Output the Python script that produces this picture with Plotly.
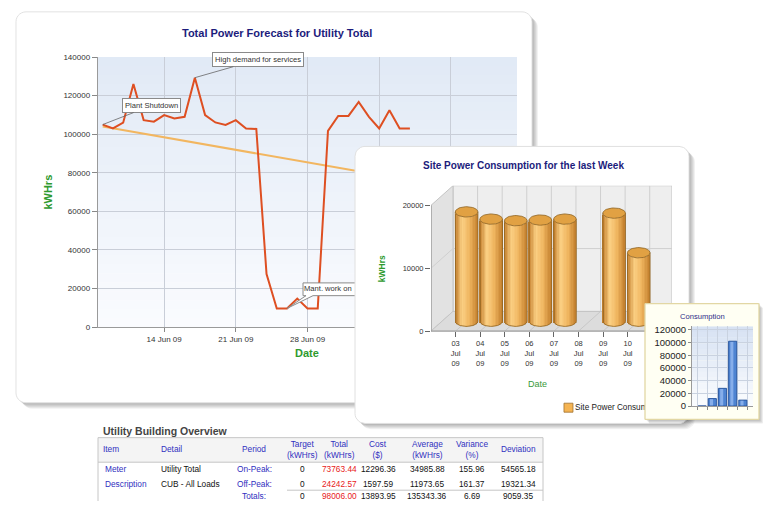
import numpy as np
import pandas as pd
import plotly.graph_objects as go

W, H = 767, 506
FONT = "Arial, Liberation Sans, sans-serif"

# ---------------- DATA ----------------
forecast_dates = pd.date_range("2009-06-08", "2009-07-08", freq="D")
forecast_kwh = [105000, 103000, 106000, 126000, 107300, 106500, 109900, 108200, 109000, 129300,
                109900, 106100, 104800, 107300, 103000, 102700, 27500, 9700, 9700, 14800,
                9700, 9700, 101700, 109500, 109500, 116700, 109000, 103000, 112400, 103000, 103000]
trend_dates = pd.to_datetime(["2009-06-08", "2009-07-08"])
trend_kwh = [104000, 76100]
main_tick_dates = pd.to_datetime(["2009-06-14", "2009-06-21", "2009-06-28", "2009-07-05", "2009-07-12"])
# the last two labels sit under the "Site Power" card in the reference, so they are left blank
main_tick_labels = ["14 Jun 09", "21 Jun 09", "28 Jun 09", "", ""]
main_y_ticks = [0, 20000, 40000, 60000, 80000, 100000, 120000, 140000]
callout_index = [0, 9, 18]
callout_texts = ["Plant Shutdown", "High demand for services", "Mant. work on"]

week_labels = ["03<br>Jul<br>09", "04<br>Jul<br>09", "05<br>Jul<br>09", "06<br>Jul<br>09",
               "07<br>Jul<br>09", "08<br>Jul<br>09", "09<br>Jul<br>09", "10<br>Jul<br>09"]
week_kwh = [17400, 16250, 16000, 16100, 16250, 0, 17200, 10900]
week_y_ticks = [0, 10000, 20000]

cons_bins = [0, 1, 2, 3, 4]
cons_kwh = [0, 11700, 27800, 102000, 9300]
cons_y_ticks = [0, 20000, 40000, 60000, 80000, 100000, 120000]

table_headers = ["Item", "Detail", "Period", "Target<br>(kWHrs)", "Total<br>(kWHrs)", "Cost<br>($)",
                 "Average<br>(kWHrs)", "Variance<br>(%)", "Deviation"]
tbl_item = ["Meter", "Description", ""]
tbl_detail = ["Utility Total", "CUB - All Loads", ""]
tbl_period = ["On-Peak:", "Off-Peak:", "Totals:"]
tbl_target = [0, 0, 0]
tbl_total = [73763.44, 24242.57, 98006.00]
tbl_cost = [12296.36, 1597.59, 13893.95]
tbl_average = [34985.88, 11973.65, 135343.36]
tbl_variance = [155.96, 161.37, 6.69]
tbl_deviation = [54565.18, 19321.34, 9059.35]


# ---------------- helpers ----------------
def PX(x):
    return x / W


def PY(y):
    return 1 - y / H


def rr_pts(x0, y0, x1, y1, r, n=8):
    pts = []
    corners = [(x1 - r, y0 + r, -90, 0), (x1 - r, y1 - r, 0, 90),
               (x0 + r, y1 - r, 90, 180), (x0 + r, y0 + r, 180, 270)]
    for cx, cy, a0, a1 in corners:
        for t in np.linspace(np.radians(a0), np.radians(a1), n):
            pts.append((cx + r * np.cos(t), cy + r * np.sin(t)))
    pts.append(pts[0])
    xs, ys = zip(*pts)
    return list(xs), list(ys)


def rr_paper_path(x0, y0, x1, y1, r):
    xs, ys = rr_pts(x0, y0, x1, y1, r)
    s = "M" + " L".join(f"{PX(a):.5f},{PY(b):.5f}" for a, b in zip(xs, ys)) + " Z"
    return s


fig = go.Figure()
shapes = []
annotations = []

# ---------------- main card (paper shapes) ----------------
for k in range(1, 7):
    shapes.append(dict(type="path", xref="paper", yref="paper", layer="below",
                       path=rr_paper_path(16 + k, 8 + k, 532 + k, 406 + k, 10),
                       fillcolor="rgba(0,0,0,0.055)", line=dict(width=0)))
shapes.append(dict(type="path", xref="paper", yref="paper", layer="below",
                   path=rr_paper_path(16, 8, 532, 406, 10),
                   fillcolor="white", line=dict(color="#E2E2E2", width=1)))

# main plot gradient background
M_L, M_R, M_T, M_B = 97.7, 517.0, 54.0, 329.0
nb = 30
top_c = np.array([225, 234, 246])
bot_c = np.array([251, 252, 255])
for i in range(nb):
    y0 = M_T + (M_B - M_T) * i / nb
    y1 = M_T + (M_B - M_T) * (i + 1) / nb
    c = top_c + (bot_c - top_c) * (i + 0.5) / nb
    shapes.append(dict(type="rect", xref="paper", yref="paper", layer="below",
                       x0=PX(M_L), x1=PX(M_R), y0=PY(y1 + 0.5), y1=PY(y0),
                       fillcolor=f"rgb({int(c[0])},{int(c[1])},{int(c[2])})", line=dict(width=0)))

# ---------------- subplot 1 : main forecast ----------------
day0 = pd.Timestamp("2009-06-08")
day0_px = 102.7
px_per_day = 10.24
Y_MAX = 140000


def main_x(px):
    return day0 + pd.Timedelta(days=(px - day0_px) / px_per_day)


def main_y(py):
    return (M_B - py) / (M_B - M_T) * Y_MAX


def main_px(date, val):
    return (day0_px + (pd.Timestamp(date) - day0).days * px_per_day,
            M_B - val / Y_MAX * (M_B - M_T))


fig.add_trace(go.Scatter(x=trend_dates, y=trend_kwh, mode="lines",
                         line=dict(color="#F2B660", width=2), xaxis="x", yaxis="y", hoverinfo="skip"))
fig.add_trace(go.Scatter(x=forecast_dates, y=forecast_kwh, mode="lines",
                         line=dict(color="#DE4F22", width=2), xaxis="x", yaxis="y", hoverinfo="skip"))

# callouts 1 and 2 as annotations
c_off = [(49, -19), (63, -18)]
for ci in range(2):
    idx = callout_index[ci]
    annotations.append(dict(x=forecast_dates[idx], y=forecast_kwh[idx], xref="x", yref="y",
                            text=callout_texts[ci], showarrow=True, arrowhead=0, arrowwidth=0.8,
                            arrowcolor="#666", ax=c_off[ci][0], ay=c_off[ci][1],
                            bgcolor="white", bordercolor="#8A8A8A", borderwidth=1, borderpad=2,
                            font=dict(family=FONT, size=7.6, color="#333")))

# callout 3 drawn inside subplot 1 so that the site card hides its right part
idx = callout_index[2]
ppx, ppy = main_px(forecast_dates[idx], forecast_kwh[idx])
bl, br, bt, bb = ppx + 16, ppx + 95, ppy - 26, ppy - 13
poly_px = [(bl, bt), (br, bt), (br, bb), (bl + 10, bb), (ppx, ppy), (bl + 3, bb), (bl, bb), (bl, bt)]
fig.add_trace(go.Scatter(x=[main_x(a) for a, b in poly_px], y=[main_y(b) for a, b in poly_px],
                         mode="lines", fill="toself", fillcolor="white",
                         line=dict(color="#8A8A8A", width=1), xaxis="x", yaxis="y", hoverinfo="skip"))
fig.add_trace(go.Scatter(x=[main_x(bl + 1)], y=[main_y((bt + bb) / 2)], mode="text",
                         text=[callout_texts[2]], textposition="middle right",
                         textfont=dict(family=FONT, size=7.6, color="#333"),
                         xaxis="x", yaxis="y", hoverinfo="skip"))

# ---------------- subplot 2 : site card background ----------------
for k in range(1, 7):
    xs, ys = rr_pts(355 + k, 145 + k, 689 + k, 427 + k, 10)
    fig.add_trace(go.Scatter(x=xs, y=ys, mode="lines", fill="toself", fillcolor="rgba(0,0,0,0.055)",
                             line=dict(width=0), xaxis="x2", yaxis="y2", hoverinfo="skip"))
xs, ys = rr_pts(355, 145, 689, 427, 10)
fig.add_trace(go.Scatter(x=xs, y=ys, mode="lines", fill="toself", fillcolor="white",
                         line=dict(color="#E0E0E0", width=1), xaxis="x2", yaxis="y2", hoverinfo="skip"))

# ---------------- subplot 3 : 3D cylinder chart ----------------
X3_MIN, X3_MAX = -1.0, 8.8
S3_TOP, S3_ZERO, S3_BOT = 185.0, 333.0, 420.0     # pixel rows: top of wall, zero line, bottom of subplot
Y3_MAX = 23125
Y3_MIN = -(S3_BOT - S3_ZERO) / (S3_ZERO - S3_TOP) * Y3_MAX
dx3, dy3 = 0.894, 3125
wall_top = 20000
# walls / floor
shapes.append(dict(type="rect", xref="x3", yref="y3", layer="below",
                   x0=X3_MIN + dx3, x1=X3_MAX, y0=dy3, y1=wall_top + dy3,
                   fillcolor="#EEEEEE", line=dict(color="#C4C4C4", width=1)))
shapes.append(dict(type="path", xref="x3", yref="y3", layer="below",
                   path=f"M{X3_MIN},0 L{X3_MIN},{wall_top} L{X3_MIN + dx3},{wall_top + dy3} L{X3_MIN + dx3},{dy3} Z",
                   fillcolor="#E2E2E2", line=dict(color="#C4C4C4", width=1)))
shapes.append(dict(type="path", xref="x3", yref="y3", layer="below",
                   path=f"M{X3_MIN},0 L{X3_MAX - dx3},0 L{X3_MAX},{dy3} L{X3_MIN + dx3},{dy3} Z",
                   fillcolor="#DCDCDC", line=dict(color="#C4C4C4", width=1)))
for k in range(0, 9):
    shapes.append(dict(type="line", xref="x3", yref="y3", layer="below",
                       x0=k + dx3, x1=k + dx3, y0=dy3, y1=wall_top + dy3,
                       line=dict(color="#CFCFCF", width=1)))
    shapes.append(dict(type="line", xref="x3", yref="y3", layer="below",
                       x0=k, x1=k + dx3, y0=0, y1=dy3, line=dict(color="#C8C8C8", width=1)))
for v in week_y_ticks[1:2]:
    shapes.append(dict(type="line", xref="x3", yref="y3", layer="below",
                       x0=X3_MIN + dx3, x1=X3_MAX, y0=v + dy3, y1=v + dy3,
                       line=dict(color="#CFCFCF", width=1)))
    shapes.append(dict(type="line", xref="x3", yref="y3", layer="below",
                       x0=X3_MIN, x1=X3_MIN + dx3, y0=v, y1=v + dy3,
                       line=dict(color="#CFCFCF", width=1)))
shapes.append(dict(type="line", xref="x3", yref="y3", layer="below",
                   x0=X3_MIN, x1=X3_MIN, y0=0, y1=wall_top, line=dict(color="#8C8C8C", width=1)))
shapes.append(dict(type="line", xref="x3", yref="y3", layer="below",
                   x0=X3_MIN, x1=X3_MAX - dx3, y0=0, y1=0, line=dict(color="#9A9A9A", width=1)))


def orange_shade(u):
    stops = [(-1.0, (192, 122, 40)), (-0.35, (251, 208, 132)), (0.3, (240, 182, 96)), (1.0, (196, 128, 46))]
    for (u0, c0), (u1, c1) in zip(stops[:-1], stops[1:]):
        if u0 <= u <= u1:
            t = (u - u0) / (u1 - u0)
            c = [int(c0[i] + (c1[i] - c0[i]) * t) for i in range(3)]
            return f"rgb({c[0]},{c[1]},{c[2]})"
    return "rgb(196,128,46)"


cyl_a = 0.46
cyl_b = 820
base_mid = dy3 / 2
cx = np.arange(len(week_kwh)) + dx3 / 2
nstrip = 16
vals = [v if v > 0 else None for v in week_kwh]
for j in range(nstrip):
    um = -1 + (2 * j + 1) / nstrip
    bot = base_mid - cyl_b * np.sqrt(max(0.0, 1 - um ** 2))
    fig.add_trace(go.Bar(x=cx + um * cyl_a, y=vals, base=[bot] * len(week_kwh),
                         width=2 * cyl_a / nstrip * 1.08,
                         marker=dict(color=orange_shade(um), line=dict(width=0)),
                         xaxis="x3", yaxis="y3", hoverinfo="skip"))
# outlines and tops
ox, oy, tx, ty = [], [], [], []
theta_b = np.linspace(np.pi, 2 * np.pi, 30)
theta_t = np.linspace(0, 2 * np.pi, 50)
for c, v in zip(cx, week_kwh):
    if v <= 0:
        continue
    top = base_mid + v
    ox += [c - cyl_a, c - cyl_a] + list(c + cyl_a * np.cos(theta_b)) + [c + cyl_a, None]
    oy += [top, base_mid] + list(base_mid + cyl_b * np.sin(theta_b)) + [top, None]
    tx += list(c + cyl_a * np.cos(theta_t)) + [None]
    ty += list(top + cyl_b * np.sin(theta_t)) + [None]
fig.add_trace(go.Scatter(x=ox, y=oy, mode="lines", line=dict(color="#8E6322", width=0.8),
                         xaxis="x3", yaxis="y3", hoverinfo="skip"))
fig.add_trace(go.Scatter(x=tx, y=ty, mode="lines", fill="toself", fillcolor="#E1A143",
                         line=dict(color="#8E6322", width=0.8), xaxis="x3", yaxis="y3", hoverinfo="skip"))
# legend (inside subplot 3 so the consumption card can cover it)
leg_y = -(411 - S3_ZERO) / (S3_ZERO - S3_TOP) * Y3_MAX
fig.add_trace(go.Scatter(x=[4.59], y=[leg_y], mode="markers+text",
                         marker=dict(symbol="square", size=9, color="#F5B452",
                                     line=dict(color="#A07030", width=0.8)),
                         text=["Site Power Consumption"], textposition="middle right",
                         textfont=dict(family=FONT, size=8.2, color="#222"),
                         xaxis="x3", yaxis="y3", hoverinfo="skip"))

# ---------------- subplot 4 : consumption card ----------------
for k in range(1, 5):
    xs, ys = rr_pts(645 + k, 305 + k, 759 + k, 423 + k, 0.5, n=2)
    fig.add_trace(go.Scatter(x=xs, y=ys, mode="lines", fill="toself", fillcolor="rgba(0,0,0,0.07)",
                             line=dict(width=0), xaxis="x4", yaxis="y4", hoverinfo="skip"))
xs, ys = rr_pts(645, 305, 759, 423, 0.5, n=2)
fig.add_trace(go.Scatter(x=xs, y=ys, mode="lines", fill="toself", fillcolor="#FFFFF3",
                         line=dict(color="#E2D7A4", width=1.3), xaxis="x4", yaxis="y4", hoverinfo="skip"))

# ---------------- subplot 5 : consumption mini chart ----------------
Y5_MAX = 125700
nb5 = 14
top5 = np.array([214, 226, 243])
bot5 = np.array([252, 253, 255])
for i in range(nb5):
    c = top5 + (bot5 - top5) * (i + 0.5) / nb5
    shapes.append(dict(type="rect", xref="x5", yref="y5", layer="below",
                       x0=-1, x1=5, y0=Y5_MAX * (1 - (i + 1) / nb5) - 200, y1=Y5_MAX * (1 - i / nb5),
                       fillcolor=f"rgb({int(c[0])},{int(c[1])},{int(c[2])})", line=dict(width=0)))
fig.add_trace(go.Bar(x=cons_bins, y=cons_kwh, width=0.8, marker=dict(color="#4E84D2", line=dict(width=0)),
                     xaxis="x5", yaxis="y5", hoverinfo="skip"))
fig.add_trace(go.Bar(x=[b - 0.08 for b in cons_bins], y=cons_kwh, width=0.3,
                     marker=dict(color="#86AEEA", line=dict(width=0)),
                     xaxis="x5", yaxis="y5", hoverinfo="skip"))
fig.add_trace(go.Bar(x=cons_bins, y=cons_kwh, width=0.8,
                     marker=dict(color="rgba(0,0,0,0)", line=dict(color="#22509A", width=0.9)),
                     xaxis="x5", yaxis="y5", hoverinfo="skip"))

# ---------------- titles / labels ----------------
NAVY = "#1C1C7C"
GREEN = "#2E9A2E"


def ann(x, y, text, size, color, bold=False, xanchor="center", angle=0):
    annotations.append(dict(x=PX(x), y=PY(y), xref="paper", yref="paper", showarrow=False,
                            text=f"<b>{text}</b>" if bold else text, xanchor=xanchor, yanchor="middle",
                            textangle=angle, font=dict(family=FONT, size=size, color=color)))


ann(277, 30, "Total Power Forecast for Utility Total", 11, NAVY, bold=True)
ann(48, 192, "kWHrs", 11, GREEN, bold=True, angle=-90)
ann(307, 355, "Date", 11, GREEN, bold=True)
ann(523, 164, "Site Power Consumption for the last Week", 10, NAVY, bold=True)
ann(382, 270, "kWHrs", 8.5, GREEN, bold=True, angle=-90)
ann(537, 387, "Date", 9, "#3A9A3A")
ann(702, 318, "Consumption", 7.6, "#2E2E88")

# ---------------- table ----------------
T_L, T_R, T_T = 98, 543, 441.5
shapes.append(dict(type="rect", xref="paper", yref="paper", layer="below",
                   x0=PX(T_L), x1=PX(T_R), y0=PY(466.5), y1=PY(T_T),
                   fillcolor="#F4F4F4", line=dict(width=0)))
for (xa, ya, xb, yb) in [(T_L, T_T, T_R, T_T), (T_L, T_T, T_L, 506), (T_R, T_T, T_R, 506),
                         (T_L, 466.5, T_R, 466.5), (287, 495, T_R, 495)]:
    shapes.append(dict(type="line", xref="paper", yref="paper", layer="below",
                       x0=PX(xa), x1=PX(xb), y0=PY(ya), y1=PY(yb), line=dict(color="#C6C6C6", width=1)))
ann(101, 435, "Utility Building Overview", 10.5, "#444", bold=True, xanchor="left")

BLUE = "#3030C0"
RED = "#E82020"
col_x = [101, 159, 254, 302, 339, 378, 427, 472, 518]
col_anchor = ["left", "left", "center", "center", "center", "center", "center", "center", "center"]
for h, x, a in zip(table_headers, col_x, col_anchor):
    ann(x, 453.5, h, 8.3, BLUE, xanchor=a)
row_y = [473.5, 488.5, 501]
for r in range(3):
    cells = [(tbl_item[r], BLUE), (tbl_detail[r], "#111"), (tbl_period[r], BLUE),
             (f"{tbl_target[r]}", "#111"), (f"{tbl_total[r]:.2f}", RED), (f"{tbl_cost[r]:.2f}", "#111"),
             (f"{tbl_average[r]:.2f}", "#111"), (f"{tbl_variance[r]:.2f}", "#111"),
             (f"{tbl_deviation[r]:.2f}", "#111")]
    for (txt, col), x, a in zip(cells, col_x, col_anchor):
        if txt:
            ann(x + (2 if a == "left" and x < 120 else 0), row_y[r], txt, 8.3, col, xanchor=a)

# ---------------- layout ----------------
fmt = "%Y-%m-%d %H:%M:%S"
fig.update_layout(
    width=W, height=H, margin=dict(l=0, r=0, t=0, b=0), autosize=False,
    paper_bgcolor="white", plot_bgcolor="rgba(0,0,0,0)", showlegend=False,
    barmode="overlay", font=dict(family=FONT), hovermode=False,
    shapes=shapes, annotations=annotations,
    xaxis=dict(domain=[PX(M_L), PX(M_R)], range=[main_x(M_L).strftime(fmt), main_x(M_R).strftime(fmt)],
               type="date", tickvals=main_tick_dates, ticktext=main_tick_labels,
               showgrid=True, gridcolor="#C9CED8", ticks="outside", ticklen=4, tickcolor="#888",
               showline=True, linecolor="#9A9A9A", zeroline=False,
               tickfont=dict(size=8, color="#333", family=FONT), anchor="y"),
    yaxis=dict(domain=[PY(M_B), PY(M_T)], range=[0, Y_MAX], tickvals=main_y_ticks, tickformat="d",
               showgrid=True, gridcolor="#C9CED8", ticks="outside", ticklen=5, tickcolor="#888",
               showline=True, linecolor="#9A9A9A", zeroline=False,
               tickfont=dict(size=8, color="#333", family=FONT), anchor="x"),
    xaxis2=dict(domain=[PX(350), PX(700)], range=[350, 700], visible=False, anchor="y2"),
    yaxis2=dict(domain=[PY(440), PY(140)], range=[440, 140], visible=False, anchor="x2"),
    xaxis3=dict(domain=[PX(431), PX(672)], range=[X3_MIN, X3_MAX], tickvals=list(range(len(week_labels))),
                ticktext=week_labels, showgrid=False, zeroline=False, showline=False,
                ticks="outside", ticklen=5, tickcolor="#666",
                tickfont=dict(size=7.5, color="#333", family=FONT), anchor="free", position=PY(S3_ZERO)),
    yaxis3=dict(domain=[PY(S3_BOT), PY(S3_TOP)], range=[Y3_MIN, Y3_MAX], tickvals=week_y_ticks,
                tickformat="d", showgrid=False, zeroline=False, showline=False, ticks="outside",
                ticklen=5, tickcolor="#666",
                tickfont=dict(size=7.5, color="#333", family=FONT), anchor="x3"),
    xaxis4=dict(domain=[PX(640), 1.0], range=[640, 767], visible=False, anchor="y4"),
    yaxis4=dict(domain=[PY(430), PY(300)], range=[430, 300], visible=False, anchor="x4"),
    xaxis5=dict(domain=[PX(692), PX(753)], range=[-1, 5], tickvals=[-0.5, 0.5, 1.5, 2.5, 3.5, 4.5],
                showticklabels=False, showgrid=True, gridcolor="#C9D2E0", zeroline=False,
                ticks="outside", ticklen=3, tickcolor="#888", showline=True, linecolor="#9A9A9A", anchor="y5"),
    yaxis5=dict(domain=[PY(409.3), PY(328)], range=[0, Y5_MAX], tickvals=cons_y_ticks, tickformat="d",
                showgrid=True, gridcolor="#C9D2E0", zeroline=False, ticks="outside", ticklen=3,
                tickcolor="#888", showline=True, linecolor="#9A9A9A",
                tickfont=dict(size=9.5, color="#222", family=FONT), anchor="x5"),
)

fig.write_html("out.html", config={"displayModeBar": False},
               post_script="document.body.style.margin='0px';document.body.style.overflow='hidden';")
